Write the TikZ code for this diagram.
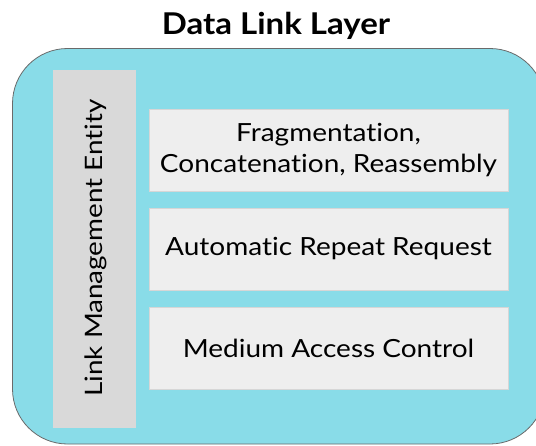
\documentclass[tikz,border=0pt]{standalone}
\usepackage{fontspec}
\setmainfont{Lato}[Ligatures=NoCommon]
\newfontfamily\bodywide[FakeStretch=1.12,Ligatures=NoCommon]{Lato}
\newfontfamily\lmewide[FakeStretch=1.16,Ligatures=NoCommon]{Lato}
\newfontfamily\titlewide[FakeStretch=1.1,Ligatures=NoCommon]{Lato}
\definecolor{layercyan}{HTML}{89DCE8}
\definecolor{layeredge}{HTML}{6A6A6A}
\definecolor{lmegray}{HTML}{D9D9D9}
\definecolor{subfill}{HTML}{EEEEEE}
\definecolor{subedge}{HTML}{D6D6D6}
\tikzset{
  sublayer/.style={draw=subedge, fill=subfill, line width=0.8pt, minimum width=359pt,
    minimum height=82pt, align=center, font=\bodywide\fontsize{25}{31}\selectfont, inner sep=0pt},
}
\begin{document}
\begin{tikzpicture}[x=1pt, y=-1pt]
  \useasboundingbox (0,0) rectangle (536,445);
  \clip (0,0) rectangle (536,445);
  % title
  \node[font=\titlewide\fontsize{30}{34}\selectfont\bfseries] (title) at (276,26) {Data Link Layer};
  % layer container
  \draw[fill=layercyan, draw=layeredge, line width=0.8pt, rounded corners=55pt]
    (12.5,48.5) rectangle (545,444) ;
  % link management entity column
  \node[fill=lmegray, minimum width=83pt, minimum height=358pt, inner sep=0pt] (lme) at (94.5,249) {};
  \node[rotate=90, font=\lmewide\fontsize{24}{29}\selectfont] (lmetext) at (96,248) {Link Management Entity};
  % sublayers
  \node[sublayer] (frag) at (328.5,150) {Fragmentation,\\Concatenation, Reassembly};
  \node[sublayer] (arq) at (328.5,249) {Automatic Repeat Request};
  \node[sublayer] (mac) at (328.5,348) {Medium Access Control};
\end{tikzpicture}
\end{document}
